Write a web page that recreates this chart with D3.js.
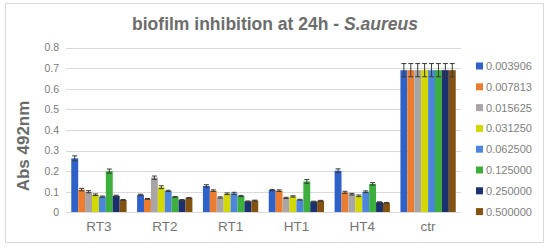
<!DOCTYPE html>
<html>
<head>
<meta charset="utf-8">
<script src="https://cdn.jsdelivr.net/npm/d3@7"></script>
<style>
  body { margin: 0; background: #fff; }
  text { font-family: "Liberation Sans", Arial, sans-serif; }
</style>
</head>
<body>
<script>
var categories = ['RT3', 'RT2', 'RT1', 'HT1', 'HT4', 'ctr'];
var series = ['0.003906', '0.007813', '0.015625', '0.031250', '0.062500', '0.125000', '0.250000', '0.500000'];
var colors = ['#2f62c8', '#ec7d30', '#a9a5a5', '#d2d800', '#4c86dc', '#3daf3d', '#1c2f6e', '#83520f'];

// one row per category, one value per concentration
var values = [
  [0.262, 0.110, 0.100, 0.085, 0.076, 0.200, 0.080, 0.060],
  [0.085, 0.065, 0.168, 0.122, 0.104, 0.075, 0.060, 0.070],
  [0.128, 0.105, 0.072, 0.090, 0.092, 0.079, 0.053, 0.057],
  [0.108, 0.105, 0.070, 0.077, 0.061, 0.150, 0.052, 0.056],
  [0.202, 0.097, 0.088, 0.080, 0.100, 0.138, 0.049, 0.046],
  [0.690, 0.690, 0.690, 0.690, 0.690, 0.690, 0.690, 0.690]
];
var errors = [
  [0.012, 0.006, 0.005, 0.004, 0.003, 0.010, 0.003, 0.002],
  [0.003, 0.002, 0.008, 0.007, 0.003, 0.002, 0.002, 0.002],
  [0.006, 0.004, 0.003, 0.004, 0.005, 0.003, 0.002, 0.002],
  [0.003, 0.004, 0.003, 0.003, 0.002, 0.009, 0.002, 0.002],
  [0.009, 0.005, 0.004, 0.004, 0.004, 0.006, 0.002, 0.002],
  [0.032, 0.032, 0.032, 0.032, 0.032, 0.032, 0.032, 0.032]
];
var yTicks = [0, 0.1, 0.2, 0.3, 0.4, 0.5, 0.6, 0.7, 0.8];

var W = 550, H = 249;
var svg = d3.select('body').append('svg').attr('width', W).attr('height', H);

svg.append('rect').attr('x', 5.5).attr('y', 3.5).attr('width', 538).attr('height', 239)
  .attr('fill', '#fff').attr('stroke', '#d9d9d9');

var x0 = d3.scaleBand().domain(categories).range([66, 461]).paddingInner(0.16).paddingOuter(0.08);
var x1 = d3.scaleBand().domain(series).range([0, x0.bandwidth()]);
var y = d3.scaleLinear().domain([0, 0.8]).range([212.3, 47.5]);

// title
var title = svg.append('text').attr('x', 275).attr('y', 30).attr('text-anchor', 'middle')
  .attr('font-size', 17.5).attr('font-weight', 'bold').attr('fill', '#6d6d6d');
title.append('tspan').text('biofilm inhibition at 24h - ');
title.append('tspan').attr('font-style', 'italic').text('S.aureus');

// gridlines
svg.append('g').selectAll('line').data(yTicks).enter().append('line')
  .attr('x1', 66).attr('x2', 461)
  .attr('y1', function (d) { return Math.round(y(d)) + 0.5; })
  .attr('y2', function (d) { return Math.round(y(d)) + 0.5; })
  .attr('stroke', '#d9d9d9').attr('stroke-width', 1);

// y axis labels
var yAxis = d3.axisLeft(y).tickValues(yTicks).tickSize(0).tickPadding(0)
  .tickFormat(function (d) { return d === 0 ? '0' : d3.format('.1f')(d); });
var gy = svg.append('g').attr('transform', 'translate(59,0)').call(yAxis);
gy.select('.domain').remove();
gy.selectAll('text').attr('font-size', 10.5).attr('fill', '#7a7a7a')
  .attr('font-family', '"Liberation Sans", Arial, sans-serif');

// y title
svg.append('text').attr('transform', 'translate(29,146) rotate(-90)')
  .attr('text-anchor', 'middle').attr('font-size', 17).attr('font-weight', 'bold')
  .attr('fill', '#6b6b6b').text('Abs 492nm');

// bars
var groups = svg.append('g').selectAll('g').data(categories).enter().append('g')
  .attr('transform', function (d) { return 'translate(' + x0(d) + ',0)'; });

groups.selectAll('rect').data(function (d, i) {
  return series.map(function (s, j) { return { s: s, j: j, v: values[i][j], e: errors[i][j] }; });
}).enter().append('rect')
  .attr('x', function (d) { return x1(d.s); })
  .attr('width', x1.bandwidth())
  .attr('y', function (d) { return y(d.v); })
  .attr('height', function (d) { return y(0) - y(d.v); })
  .attr('fill', function (d) { return colors[d.j]; });

// error bars
var eb = groups.selectAll('g.err').data(function (d, i) {
  return series.map(function (s, j) { return { s: s, j: j, v: values[i][j], e: errors[i][j] }; });
}).enter().append('g').attr('class', 'err')
  .attr('stroke', '#3a3a3a').attr('stroke-width', 1);
eb.append('line')
  .attr('x1', function (d) { return x1(d.s) + x1.bandwidth() / 2; })
  .attr('x2', function (d) { return x1(d.s) + x1.bandwidth() / 2; })
  .attr('y1', function (d) { return y(d.v - d.e); })
  .attr('y2', function (d) { return y(d.v + d.e); });
eb.append('line')
  .attr('x1', function (d) { return x1(d.s) + x1.bandwidth() / 2 - 2.5; })
  .attr('x2', function (d) { return x1(d.s) + x1.bandwidth() / 2 + 2.5; })
  .attr('y1', function (d) { return y(d.v + d.e); })
  .attr('y2', function (d) { return y(d.v + d.e); });
eb.append('line')
  .attr('x1', function (d) { return x1(d.s) + x1.bandwidth() / 2 - 2.5; })
  .attr('x2', function (d) { return x1(d.s) + x1.bandwidth() / 2 + 2.5; })
  .attr('y1', function (d) { return y(d.v - d.e); })
  .attr('y2', function (d) { return y(d.v - d.e); });

// x axis
var xAxis = d3.axisBottom(x0).tickSize(0).tickPadding(9);
var gx = svg.append('g').attr('transform', 'translate(0,' + (Math.round(y(0)) + 0.5) + ')').call(xAxis);
gx.select('.domain').attr('stroke', '#d9d9d9').attr('d', 'M66,0H461');
gx.selectAll('text').attr('font-size', 13.5).attr('fill', '#747474')
  .attr('font-family', '"Liberation Sans", Arial, sans-serif');

// legend
var leg = svg.append('g').selectAll('g').data(series).enter().append('g')
  .attr('transform', function (d, i) { return 'translate(476,' + (66 + i * 20.8) + ')'; });
leg.append('rect').attr('x', 0).attr('y', -3.5).attr('width', 7).attr('height', 7)
  .attr('fill', function (d, i) { return colors[i]; });
leg.append('text').attr('x', 10).attr('y', 4).attr('font-size', 11).attr('fill', '#808080')
  .text(function (d) { return d; });
</script>
</body>
</html>
